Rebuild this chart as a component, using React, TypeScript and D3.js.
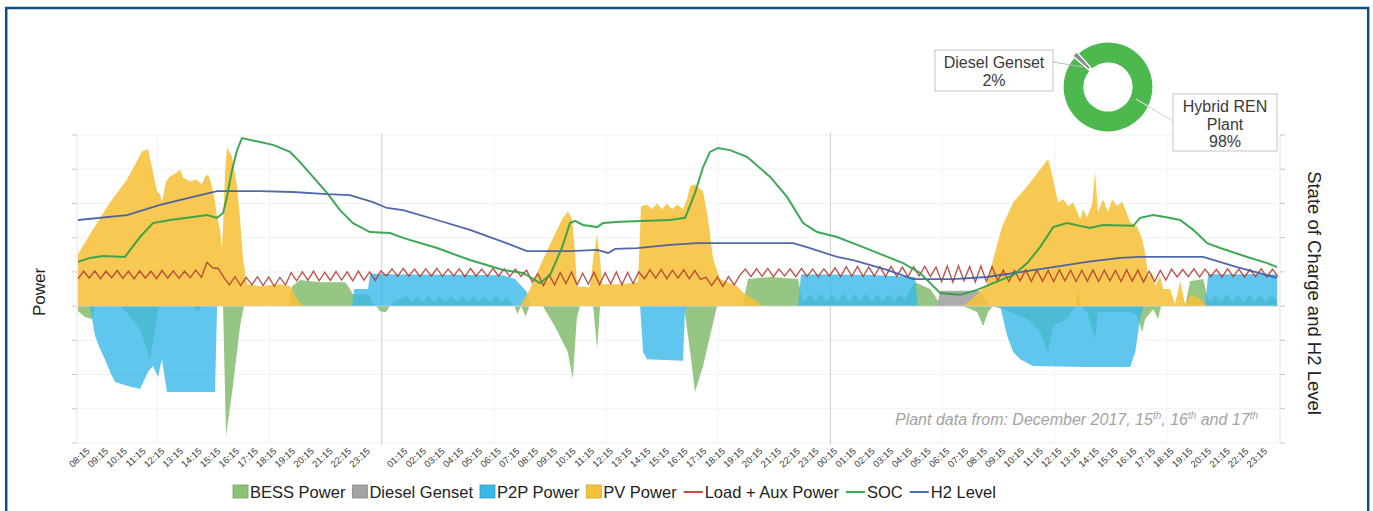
import React, { useEffect, useRef } from 'react';
import * as d3 from 'd3';

// time = hours counted from Dec 15th 00:00, power in plant units, SOC / H2 in %
type Pt = [number, number];

const pvPower: Pt[] = [
  [7.75, 1.52], [8.55, 2.24], [9.46, 3.03], [10.37, 3.7], [11.17, 4.52], [11.5, 4.58], [11.98, 3.35], [12.14, 3.27],
  [12.24, 3.03], [12.46, 3.64], [12.67, 3.79], [13.05, 3.91], [13.21, 3.99], [13.37, 3.76], [13.74, 3.64], [14.06, 3.7],
  [14.38, 3.56], [14.55, 3.79], [14.71, 3.85], [14.92, 3.5], [15.08, 3.03], [15.19, 2.62], [15.35, 2.24], [15.45, 1.66],
  [15.51, 2.33], [15.62, 3.91], [15.72, 4.64], [15.99, 4.37], [16.26, 3.5], [16.42, 2.54], [16.58, 1.37], [16.79, 0.64],
  [17.49, 0.58], [18.56, 0.64], [19.09, 0.58], [19.47, 0.2], [19.79, 0],
  [31.4, 0], [31.93, 0.5], [32.63, 1.37], [33.38, 2.24], [33.7, 2.59], [33.97, 2.77], [34.18, 2.54], [34.34, 1.57],
  [34.45, 0.58], [35.14, 0.55], [35.31, 1.37], [35.52, 2.1], [35.68, 1.37], [35.79, 0.64], [36.75, 0.64], [37.71, 0.7],
  [37.87, 2.92], [38.19, 2.97], [38.46, 2.83], [38.73, 3.0], [39.0, 2.83], [39.26, 3.0], [39.53, 2.83], [39.8, 2.97],
  [40.12, 2.83], [40.33, 3.12], [40.5, 3.5], [40.76, 3.56], [41.19, 3.35], [41.46, 2.54], [41.73, 1.37], [42.1, 0.79],
  [43.01, 0.58], [43.44, 0.35], [44.08, 0.15], [44.35, 0],
  [55.1, 0], [55.85, 0.35], [56.38, 0.64], [56.71, 1.37], [57.19, 2.33], [57.78, 3.03], [58.53, 3.5], [59.22, 3.99],
  [59.65, 4.29], [59.92, 3.7], [60.18, 3.03], [60.45, 3.12], [60.72, 2.92], [60.99, 3.03], [61.36, 2.54], [61.52, 2.83],
  [61.73, 2.59], [62.0, 2.97], [62.16, 3.91], [62.32, 2.74], [62.59, 3.12], [62.85, 2.74], [63.07, 3.12], [63.34, 2.92],
  [63.61, 3.06], [63.77, 2.83], [64.04, 2.45], [64.41, 2.33], [64.68, 1.95], [64.84, 1.57], [65.0, 0.87], [65.21, 0.99],
  [65.37, 0.58], [65.64, 0.87], [65.8, 0.5], [66.17, 0.5], [66.44, 0.06], [66.71, 0.73], [66.98, 0.06], [67.35, 0.35],
  [67.78, 0.2], [68.16, 0],
];

const bessPower: Pt[] = [
  [7.75, -0.15], [8.12, -0.32], [8.5, -0.38], [8.66, 0], [10.0, 0], [10.43, -0.23], [11.07, -0.67], [11.6, -1.55],
  [11.87, -0.67], [12.03, -0.09], [12.14, 0], [13.9, 0], [14.12, -0.17], [14.38, 0], [15.51, 0], [15.67, -3.79],
  [16.04, -2.33], [16.42, -0.58], [16.63, 0], [18.99, 0], [19.2, 0.58], [19.63, 0.76], [20.7, 0.7], [22.04, 0.7],
  [22.3, 0.5], [22.45, 0.35], [23.27, 0.35], [23.48, 0.12], [23.7, 0], [23.91, -0.15], [24.2, -0.18], [24.44, 0],
  [24.7, 0.15], [25.0, 0.2], [25.3, 0.3], [25.6, 0.12], [25.9, 0.29], [26.2, 0.12], [26.5, 0.3], [26.8, 0.13],
  [27.1, 0.28], [27.4, 0.12], [27.7, 0.3], [28.0, 0.12], [28.3, 0.29], [28.6, 0.13], [28.9, 0.3], [29.2, 0.12],
  [29.5, 0.28], [29.8, 0.12], [30.1, 0.3], [30.4, 0.13], [30.7, 0.25], [31.0, 0.05], [31.1, 0], [31.25, -0.23],
  [31.45, 0], [31.7, -0.3], [31.9, 0], [32.61, 0], [33.25, -0.58], [33.95, -1.34], [34.22, -2.13], [34.43, -0.38],
  [34.6, 0], [35.31, 0], [35.52, -1.25], [35.68, 0], [40.17, 0], [40.5, -1.34], [40.76, -2.51], [41.19, -1.75],
  [41.56, -0.87], [41.94, 0], [43.28, 0], [43.6, 0.79], [44.78, 0.85], [46.27, 0.79], [46.49, 0.2], [46.6, 0.15],
  [46.9, 0.35], [47.2, 0.14], [47.5, 0.36], [47.8, 0.13], [48.1, 0.35], [48.4, 0.14], [48.7, 0.36], [49.0, 0.13],
  [49.3, 0.35], [49.6, 0.14], [49.9, 0.36], [50.2, 0.13], [50.5, 0.35], [50.8, 0.14], [51.1, 0.36], [51.4, 0.13],
  [51.7, 0.35], [52.0, 0.2], [52.3, 0.5], [52.53, 0.7], [53.34, 0.5], [53.71, 0.2], [53.87, 0], [55.1, 0],
  [55.85, -0.17], [56.17, -0.58], [56.44, -0.17], [56.7, 0], [57.62, -0.17], [58.53, -0.38], [59.22, -0.76],
  [59.65, -1.34], [59.92, -0.58], [60.66, -0.38], [61.1, 0], [61.25, 0.5], [61.4, 0], [61.73, -0.17], [62.16, -0.96],
  [62.32, -0.17], [64.04, -0.17], [64.41, -0.29], [64.68, -0.76], [64.84, -0.38], [65.27, -0.09], [65.53, -0.38],
  [65.69, 0], [66.98, 0], [67.24, 0.73], [67.94, 0.79], [68.2, 0.2], [68.3, 0.15], [68.6, 0.32], [68.9, 0.13],
  [69.2, 0.33], [69.5, 0.14], [69.8, 0.32], [70.1, 0.13], [70.4, 0.33], [70.7, 0.14], [71.0, 0.32], [71.3, 0.13],
  [71.6, 0.33], [71.9, 0.15],
];

const p2pPower: Pt[] = [
  [7.75, 0], [8.39, 0], [8.5, -0.38], [8.66, -0.87], [8.93, -1.25], [9.19, -1.55], [9.46, -1.92], [9.73, -2.22],
  [10.37, -2.33], [11.07, -2.42], [11.5, -1.92], [11.76, -1.75], [12.03, -2.07], [12.24, -1.55], [12.51, -2.51],
  [15.08, -2.51], [15.19, 0], [22.41, 0], [22.52, 0.5], [23.27, 0.5], [23.37, 0.95], [24.5, 0.93], [28.0, 0.92],
  [30.5, 0.9], [31.13, 0.79], [31.77, 0.41], [31.93, 0], [37.82, 0], [37.98, -1.34], [38.19, -1.55], [40.12, -1.6],
  [40.23, 0], [46.27, 0], [46.43, 0.93], [50.0, 0.92], [52.53, 0.85], [52.69, 0], [57.08, 0], [57.46, -0.87],
  [57.78, -1.34], [58.15, -1.55], [58.85, -1.75], [61.73, -1.78], [64.04, -1.78], [64.31, -1.34], [64.57, -0.38],
  [64.73, 0], [68.05, 0], [68.21, 0.93], [71.9, 0.93],
];

const dieselPower: Pt[] = [[53.71, 0], [53.87, 0.45], [56.01, 0.45], [56.28, 0.2], [56.55, 0]];

// load + aux power is logged on a regular 18 minute grid
const loadStart = 7.75;
const loadStep = 0.3;
const loadPower = [
  0.8, 1.02, 0.82, 1.03, 0.8, 1.02, 0.83, 1.04, 0.81, 1.02, 0.8, 1.03, 0.82, 1.02, 0.8, 1.04, 0.82, 1.03, 0.81, 1.02,
  0.83, 1.05, 0.84, 1.28, 1.12, 1.1,
  0.84, 0.62, 0.86, 0.6, 0.84, 0.62, 0.86, 0.6, 0.85, 0.58, 0.84, 0.62,
  0.98, 0.74, 1.0, 0.76, 1.02, 0.74, 0.99, 0.75, 1.01, 0.76, 1.0, 0.74, 1.02, 0.76, 1.0, 0.75, 1.03,
  0.88, 1.09, 0.87, 1.1, 0.88, 1.08, 0.86, 1.09, 0.88, 1.1, 0.87, 1.08, 0.88, 1.09, 0.86, 1.1, 0.88, 1.08, 0.87, 1.1,
  0.88, 1.09, 0.86, 1.08, 0.87, 1.05,
  0.7, 0.95, 0.6, 0.92, 0.62, 0.98, 0.66, 1.0, 0.62, 0.96, 0.64, 0.99, 0.63, 0.97, 0.65, 1.0, 0.62, 0.98, 0.66, 1.0,
  0.8, 1.06, 0.82, 1.07, 0.8, 1.05, 0.82, 1.06, 0.8, 1.04, 0.78,
  0.84, 0.6, 0.85, 0.58, 0.86, 0.62, 0.9,
  1.08, 0.86, 1.09, 0.87, 1.1, 0.86, 1.08, 0.88, 1.09, 0.86, 1.1, 0.87, 1.08, 0.86, 1.09, 0.88, 1.12,
  0.86, 1.15, 0.87, 1.16, 0.86, 1.14, 0.88, 1.15, 0.86, 1.16, 0.87, 1.14, 0.86, 1.15, 0.88, 1.16, 0.86, 1.14,
  0.72, 1.17, 0.7, 1.18, 0.74, 1.16, 0.7, 1.17, 0.72, 1.15, 0.74,
  1.05, 0.72, 1.04, 0.74, 1.06, 0.72, 1.05, 0.73, 1.04, 0.72, 1.06, 0.74, 1.05, 0.72, 1.04, 0.73, 1.06, 0.72, 1.05, 0.74,
  1.04, 0.72, 1.06, 0.73, 1.05, 0.7, 1.02, 0.72, 1.04, 0.76,
  1.08, 0.85, 1.07, 0.86, 1.09, 0.85, 1.08, 0.86, 1.07, 0.85, 1.09, 0.86, 1.08, 0.85, 1.07, 0.86, 1.09, 0.85, 1.08, 0.86,
];

const socLevel: Pt[] = [
  [7.75, 58.8], [8.39, 60.1], [9.09, 60.7], [10.26, 60.4], [11.07, 66.9], [11.76, 71.4], [12.67, 72.4], [13.9, 73.4],
  [14.65, 74.0], [15.19, 73.1], [15.51, 74.7], [15.72, 79.9], [15.99, 88.6], [16.26, 95.1], [16.52, 99.0], [17.49, 97.7],
  [18.18, 96.8], [19.09, 94.5], [19.63, 91.2], [20.32, 86.4], [21.07, 81.2], [21.77, 75.6], [22.46, 71.4], [23.37, 68.5],
  [24.44, 68.2], [25.14, 66.6], [26.96, 63.3], [28.72, 59.4], [30.49, 56.2], [31.56, 55.2], [32.47, 51.9], [33.0, 54.5],
  [33.65, 63.6], [34.07, 71.4], [34.34, 72.1], [34.77, 70.8], [35.52, 70.1], [35.84, 71.4], [36.75, 71.8], [39.42, 72.4],
  [40.23, 73.1], [40.76, 81.2], [41.19, 89.6], [41.56, 94.5], [41.99, 95.8], [42.63, 95.1], [43.54, 92.9], [44.78, 86.4],
  [45.68, 79.9], [46.54, 71.4], [47.29, 68.5], [48.36, 66.9], [50.12, 62.7], [51.89, 58.4], [52.8, 55.2], [53.34, 51.9],
  [53.87, 48.7], [54.94, 48.1], [55.85, 49.7], [56.71, 51.9], [57.78, 54.5], [58.53, 58.4], [59.22, 63.6], [59.92, 70.1],
  [60.66, 71.4], [61.36, 70.5], [61.89, 69.8], [62.59, 70.8], [64.2, 70.5], [64.57, 73.1], [65.27, 74.0], [65.91, 73.4],
  [66.71, 72.4], [67.41, 69.2], [68.16, 64.9], [68.85, 63.3], [70.3, 60.4], [71.37, 58.4], [71.9, 57.1],
];

const h2Level: Pt[] = [
  [7.75, 72.4], [10.37, 74.0], [12.14, 77.3], [13.9, 79.9], [15.19, 81.8], [17.49, 81.8], [19.25, 81.5], [21.07, 80.8],
  [22.3, 80.5], [23.53, 78.2], [24.28, 76.3], [25.14, 75.6], [26.96, 72.4], [28.72, 69.2], [30.49, 65.3], [31.77, 62.3],
  [34.07, 62.3], [35.52, 62.7], [36.11, 61.7], [36.48, 63.0], [37.66, 63.3], [39.42, 64.3], [40.87, 64.9], [43.01, 64.9],
  [46.01, 64.9], [46.91, 63.3], [48.36, 60.4], [49.22, 59.4], [51.03, 56.2], [52.43, 53.2], [54.57, 53.2], [56.38, 53.9],
  [58.15, 55.5], [59.92, 57.1], [61.73, 58.8], [63.5, 60.1], [64.57, 60.4], [67.94, 60.4], [69.76, 57.1], [71.9, 53.6],
];

const dayOneTicks = ['08:15', '09:15', '10:15', '11:15', '12:15', '13:15', '14:15', '15:15', '16:15', '17:15', '18:15',
  '19:15', '20:15', '21:15', '22:15', '23:15'];
const dayTwoTicks = ['01:15', '02:15', '03:15', '04:15', '05:15', '06:15', '07:15', '08:15', '09:15', '10:15', '11:15',
  '12:15', '13:15', '14:15', '15:15', '16:15', '17:15', '18:15', '19:15', '20:15', '21:15', '22:15', '23:15'];
const dayThreeTicks = ['00:15', '01:15', '02:15', '03:15', '04:15', '05:15', '06:15', '07:15', '08:15', '09:15', '10:15',
  '11:15', '12:15', '13:15', '14:15', '15:15', '16:15', '17:15', '18:15', '19:15', '20:15', '21:15', '22:15', '23:15'];

const mixNames = [['Diesel Genset'], ['Hybrid REN', 'Plant']];
const mixShares = [2, 98];

const legendNames = ['BESS Power', 'Diesel Genset', 'P2P Power', 'PV Power', 'Load + Aux Power', 'SOC', 'H2 Level'];
const legendKinds = ['area', 'area', 'area', 'area', 'line', 'line', 'line'];

const colors = {
  bess: '#8cc178',
  diesel: '#a3a3a3',
  p2p: '#3ab8e8',
  pv: '#f6c23a',
  load: '#b2382f',
  soc: '#2a9f45',
  h2: '#3e58a4',
};
const legendColors = [colors.bess, colors.diesel, colors.p2p, colors.pv, '#d0453f', '#33b04f', '#4a6cc0'];

const toHours = (label, day) => {
  const [hh, mm] = label.split(':').map(Number);
  return day * 24 + hh + mm / 60;
};

function drawChart(node) {
  const svg = d3.select(node);
  svg.selectAll('*').remove();

  const width = 1373, height = 511;
  const left = 78, right = 1279, top = 135, bottom = 443;
  const font = "'Liberation Sans', Arial, sans-serif";

  const x = d3.scaleLinear().domain([7.75, 72]).range([left, right]);
  const yP = d3.scaleLinear().domain([-4, 5]).range([bottom, top]);
  const yS = d3.scaleLinear().domain([0, 100]).range([bottom, top]);

  svg.append('rect').attr('width', width).attr('height', height).attr('fill', '#fff');

  // grid + axes
  const yTicks = yP.ticks(9);
  svg.append('g').selectAll('line').data(yTicks).join('line')
    .attr('x1', left).attr('x2', right)
    .attr('y1', d => yP(d)).attr('y2', d => yP(d))
    .attr('stroke', '#f1f1f1');
  svg.append('g').selectAll('line').data(d3.range(12, 72, 6)).join('line')
    .attr('x1', d => x(d)).attr('x2', d => x(d))
    .attr('y1', top).attr('y2', bottom)
    .attr('stroke', '#f3f3f3');
  svg.append('g').selectAll('line').data([24, 48]).join('line')
    .attr('x1', d => x(d)).attr('x2', d => x(d))
    .attr('y1', top - 2).attr('y2', bottom + 2)
    .attr('stroke', '#cfcfcf');

  [left - 1, right + 1].forEach((ax, k) => {
    svg.append('line').attr('x1', ax).attr('x2', ax).attr('y1', top).attr('y2', bottom).attr('stroke', '#e4e4e4');
    svg.append('g').selectAll('line').data(yTicks).join('line')
      .attr('x1', ax).attr('x2', k === 0 ? ax - 5 : ax + 5)
      .attr('y1', d => yP(d)).attr('y2', d => yP(d))
      .attr('stroke', '#c8c8c8');
  });

  // power areas
  const area = d3.area().x(d => x(d[0])).y0(yP(0)).y1(d => yP(d[1]));
  svg.append('path').datum(bessPower).attr('d', area).attr('fill', colors.bess).attr('fill-opacity', 0.92);
  svg.append('path').datum(dieselPower).attr('d', area).attr('fill', colors.diesel).attr('fill-opacity', 0.9);
  svg.append('path').datum(p2pPower).attr('d', area).attr('fill', colors.p2p).attr('fill-opacity', 0.8);
  svg.append('path').datum(pvPower).attr('d', area).attr('fill', colors.pv).attr('fill-opacity', 0.88);

  svg.append('line').attr('x1', left).attr('x2', right).attr('y1', yP(0)).attr('y2', yP(0))
    .attr('stroke', '#d6d6d6').attr('stroke-width', 0.8);

  // lines
  const loadPts = loadPower.map((v, i) => [loadStart + i * loadStep, v]);
  const powerLine = d3.line().x(d => x(d[0])).y(d => yP(d[1]));
  const levelLine = d3.line().x(d => x(d[0])).y(d => yS(d[1]));

  svg.append('path').datum(loadPts).attr('d', powerLine).attr('fill', 'none')
    .attr('stroke', colors.load).attr('stroke-width', 1.4).attr('stroke-opacity', 0.85);
  svg.append('path').datum(h2Level).attr('d', levelLine).attr('fill', 'none')
    .attr('stroke', colors.h2).attr('stroke-width', 1.8).attr('stroke-opacity', 0.9);
  svg.append('path').datum(socLevel).attr('d', levelLine).attr('fill', 'none')
    .attr('stroke', colors.soc).attr('stroke-width', 2).attr('stroke-opacity', 0.9);

  // x tick labels
  const ticks = [
    ...dayOneTicks.map(t => [t, toHours(t, 0)]),
    ...dayTwoTicks.map(t => [t, toHours(t, 1)]),
    ...dayThreeTicks.map(t => [t, toHours(t, 2)]),
  ];
  svg.append('g').selectAll('text').data(ticks).join('text')
    .attr('transform', d => `translate(${x(d[1]) + 3},${bottom + 9}) rotate(-42)`)
    .attr('text-anchor', 'end')
    .style('font-family', font).style('font-size', '9.5px')
    .attr('fill', '#3c3c3c')
    .text(d => d[0]);

  // axis titles
  svg.append('text').attr('transform', 'translate(45,292) rotate(-90)')
    .attr('text-anchor', 'middle').style('font-family', font).style('font-size', '17px')
    .attr('fill', '#222').text('Power');
  svg.append('text').attr('transform', 'translate(1308,293) rotate(90)')
    .attr('text-anchor', 'middle').style('font-family', font).style('font-size', '18.5px')
    .attr('fill', '#222').text('State of Charge and H2 Level');

  // note
  const note = svg.append('text').attr('x', 1258).attr('y', 425).attr('text-anchor', 'end')
    .style('font-family', font).style('font-size', '16px').style('font-style', 'italic')
    .attr('fill', '#a3a3a3');
  const noteParts = [['Plant data from: December 2017, 15', false], ['th', true], [', 16', false], ['th', true],
    [' and 17', false], ['th', true]];
  noteParts.forEach(([s, sup]) => {
    note.append('tspan').attr('dy', sup ? -6 : 6).style('font-size', sup ? '10px' : '16px').text(s);
  });
  note.select('tspan').attr('dy', 0);

  // energy mix donut
  const cx = 1108, cy = 87;
  const pie = d3.pie().sort(null).startAngle(-0.85).endAngle(-0.85 + 2 * Math.PI);
  const arc = d3.arc().innerRadius(24).outerRadius(45);
  const donut = svg.append('g').attr('transform', `translate(${cx},${cy})`);
  donut.selectAll('path').data(pie(mixShares)).join('path')
    .attr('d', arc)
    .attr('transform', (d, i) => {
      if (i !== 0) return null;
      const a = (d.startAngle + d.endAngle) / 2;
      return `translate(${Math.sin(a) * 2},${-Math.cos(a) * 2})`;
    })
    .attr('fill', (d, i) => (i === 0 ? '#8a8a8a' : '#4cb84e'))
    .attr('stroke', '#fff').attr('stroke-width', 1.2);

  svg.append('line').attr('x1', 1053).attr('y1', 62).attr('x2', 1083).attr('y2', 67)
    .attr('stroke', '#bdbdbd').attr('stroke-width', 1);
  svg.append('line').attr('x1', 1173).attr('y1', 121).attr('x2', 1136).attr('y2', 99)
    .attr('stroke', '#d9d9d9').attr('stroke-width', 1.3);

  const boxes = [
    { x: 935, y: 50, w: 118, h: 41, lineY: 68 },
    { x: 1173, y: 94, w: 104, h: 57, lineY: 112 },
  ];
  mixNames.forEach((lines, i) => {
    const b = boxes[i];
    svg.append('rect').attr('x', b.x).attr('y', b.y).attr('width', b.w).attr('height', b.h)
      .attr('fill', '#fff').attr('stroke', '#c4c4c4');
    [...lines, `${mixShares[i]}%`].forEach((s, j) => {
      svg.append('text').attr('x', b.x + b.w / 2).attr('y', b.lineY + j * 17.5)
        .attr('text-anchor', 'middle').style('font-family', font).style('font-size', '16px')
        .attr('fill', '#3a3a3a').text(s);
    });
  });

  // legend
  const legend = svg.append('g').style('font-family', font).style('font-size', '16.5px');
  let lx = 233;
  legendNames.forEach((name, i) => {
    const c = legendColors[i];
    if (legendKinds[i] === 'area') {
      legend.append('rect').attr('x', lx).attr('y', 485).attr('width', 15).attr('height', 13)
        .attr('fill', c).attr('stroke', d3.color(c).darker(0.5).formatHex()).attr('stroke-width', 0.8);
      lx += 17;
    } else {
      legend.append('line').attr('x1', lx).attr('x2', lx + 19).attr('y1', 492).attr('y2', 492)
        .attr('stroke', c).attr('stroke-width', 2);
      lx += 21;
    }
    const t = legend.append('text').attr('x', lx).attr('y', 498).attr('fill', '#222').text(name);
    lx += t.node().getComputedTextLength() + 7;
  });

  // frame
  svg.append('rect').attr('x', 6.2).attr('y', 8).attr('width', 1362).attr('height', 540)
    .attr('fill', 'none').attr('stroke', '#0c4f80').attr('stroke-width', 2.5);
}

export default function App() {
  const ref = useRef(null);

  useEffect(() => {
    drawChart(ref.current);
  }, []);

  return (
    <svg ref={ref} width={1373} height={511}
      style={{ position: 'absolute', left: 0, top: 0, display: 'block', background: '#fff' }} />
  );
}
